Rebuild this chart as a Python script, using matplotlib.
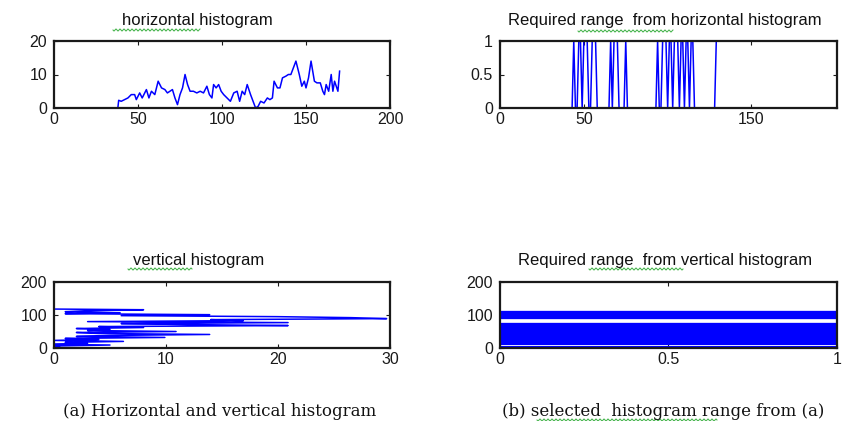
import numpy as np
import matplotlib
matplotlib.use("Agg")
import matplotlib.pyplot as plt
from matplotlib.lines import Line2D
from matplotlib.ticker import FuncFormatter

# ---------------- data ----------------
# horizontal histogram (column index, count)
hx = [0, 38, 38.5, 40, 44, 46, 48, 49, 51, 52.5,
      55, 56.5, 58, 60, 62, 64, 66, 67.5, 69, 70.5,
      72, 73.5, 75, 76.5, 78, 79.5, 81, 83, 85, 87,
      89, 91, 92.5, 94, 95, 96.5, 98, 99.5, 101, 103,
      105, 107, 109, 110.5, 112, 113.5, 115, 117, 118.5, 120,
      121.5, 123, 125, 127, 128.5, 130, 131, 133, 134.5, 136,
      138, 139.5, 141, 142.5, 144, 146, 147.5, 149, 150, 151.5,
      153, 155, 156.5, 158.5, 160, 161, 162, 163.5, 165, 166,
      167, 169, 170]
hy = [0, 0, 2.3, 2, 3, 4, 4, 2.5, 4.5, 3,
      5.5, 3, 5, 4, 8, 6, 5.5, 4.5, 5, 5.5,
      3, 1, 4, 6, 10, 7, 5, 5, 4.5, 5,
      4.5, 6.5, 4, 3, 7, 6, 7, 5, 4, 3,
      2, 4.5, 5, 2, 5, 4, 7, 4, 2, 0,
      0.5, 2, 1.5, 3, 2.5, 3, 8, 6, 6, 9,
      9.5, 10, 10, 12, 14, 10, 6.5, 8, 6, 9,
      14, 8, 7.5, 7.5, 5, 4, 7, 5, 10, 5,
      8, 5, 11]

# selected columns (runs where the required range is 1)
sel_runs = [(44, 44), (47, 48), (50, 52), (55, 57), (66, 66), (68, 70), (75, 75),
            (94, 94), (97, 99), (101, 102), (104, 106), (108, 109), (111, 112),
            (114, 115), (129, 170)]
sel_len = 171

# vertical histogram (count, row index)
vidx = [0, 3, 6, 9, 11, 14, 17, 20, 23, 26,
        29, 32, 35, 38, 41, 44, 47, 50, 53, 56,
        59, 62, 65, 68, 71, 74, 77, 80, 83, 86,
        89, 92, 95, 98, 101, 104, 107, 110, 113, 116,
        118]
vval = [0, 0.5, 0, 5, 0, 3, 1, 6.2, 0, 4,
        1, 9.9, 2, 5, 13.9, 4, 2, 10.9, 3, 5,
        2, 8, 4, 20.9, 12, 6, 20.9, 3, 16.9, 14,
        29.7, 26.5, 19.9, 6, 13.9, 1, 5.9, 1, 2.9, 8,
        0]

# selected rows (runs)
row_runs = [(0, 5), (13, 21), (25, 77), (90, 113)]

titles = ["horizontal histogram", "Required range  from horizontal histogram",
          "vertical histogram", "Required range  from vertical histogram"]
captions = ["(a) Horizontal and vertical histogram", "(b) selected  histogram range from (a)"]

# ---------------- figure ----------------
W, H = 849, 421
fig = plt.figure(figsize=(W / 100, H / 100), dpi=100)
fig.patch.set_facecolor("white")

def px_rect(l, t, r, b):
    return [l / W, 1 - b / H, (r - l) / W, (b - t) / H]

BLUE = (0, 0, 1)
LW = 1.1

def style(ax):
    for s in ax.spines.values():
        s.set_linewidth(1.6)
        s.set_color("#1a1a1a")
    ax.tick_params(direction="in", length=3, width=0.8, top=True, right=True,
                   labelsize=11.5, pad=5, colors="#1a1a1a")
    ax.tick_params(axis="x", pad=3)
    for lab in ax.get_xticklabels() + ax.get_yticklabels():
        lab.set_family("Liberation Sans")
    fmt = FuncFormatter(lambda v, p: ("%g" % v))
    ax.xaxis.set_major_formatter(fmt)
    ax.yaxis.set_major_formatter(fmt)

ax1 = fig.add_axes(px_rect(54, 41, 390, 108))
ax2 = fig.add_axes(px_rect(500, 41, 837, 108))
ax3 = fig.add_axes(px_rect(54, 282, 390, 348))
ax4 = fig.add_axes(px_rect(500, 282, 837, 348))

# top-left
ax1.plot(hx, hy, color=BLUE, lw=LW)
ax1.set_xlim(0, 200); ax1.set_ylim(0, 20)
ax1.set_xticks([0, 50, 100, 150, 200]); ax1.set_yticks([0, 10, 20])

# top-right
sel = np.zeros(sel_len)
for a, b in sel_runs:
    sel[a:b + 1] = 1
ax2.plot(np.arange(sel_len), sel, color=BLUE, lw=LW)
ax2.set_xlim(0, 201); ax2.set_ylim(0, 1)
ax2.set_xticks([0, 50, 150]); ax2.set_yticks([0, 0.5, 1])

# bottom-left
ax3.plot(vval, vidx, color=BLUE, lw=LW)
ax3.set_xlim(0, 30); ax3.set_ylim(0, 200)
ax3.set_xticks([0, 10, 20, 30]); ax3.set_yticks([0, 100, 200])

# bottom-right
for a, b in row_runs:
    for r in range(a, b + 1):
        ax4.plot([0, 1], [r, r], color=BLUE, lw=0.8)
ax4.set_xlim(0, 1); ax4.set_ylim(0, 200)
ax4.set_xticks([0, 0.5, 1]); ax4.set_yticks([0, 100, 200])

plt.rcParams["font.family"] = ["Liberation Sans", "DejaVu Sans"]
for ax in (ax1, ax2, ax3, ax4):
    style(ax)

# titles
tfont = dict(family="Liberation Sans", fontsize=12, color="#111111", ha="center", va="center")
fig.text(197 / W, 1 - 21 / H, titles[0], **tfont)
fig.text(665 / W, 1 - 21 / H, titles[1], **tfont)
fig.text(199 / W, 1 - 261 / H, titles[2], **tfont)
fig.text(665 / W, 1 - 261 / H, titles[3], **tfont)

cfont = dict(family="DejaVu Serif", fontsize=12, color="#111111", ha="center", va="center")
fig.text(220 / W, 1 - 411 / H, captions[0], **cfont)
fig.text(663 / W, 1 - 411 / H, captions[1], **cfont)

# spell-check squiggles (decoration)
def squiggle(x0, x1, y):
    xs = np.linspace(x0, x1, int((x1 - x0) * 2))
    ys = y + 1.0 * np.sin((xs - x0) * np.pi / 2.0)
    fig.add_artist(Line2D(xs / W, 1 - ys / H, color="#3cb043", lw=0.7,
                          transform=fig.transFigure))

squiggle(113, 200, 30)
squiggle(578, 673, 31)
squiggle(128, 192, 269)
squiggle(589, 683, 269)
squiggle(537, 717, 420)

fig.savefig("out.png", dpi=100, facecolor="white")
